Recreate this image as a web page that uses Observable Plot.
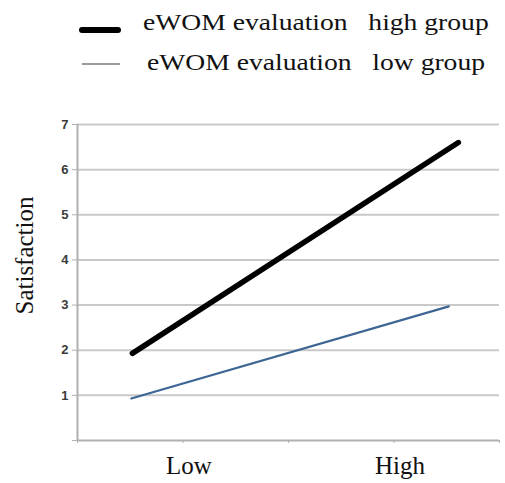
<!DOCTYPE html>
<html>
<head>
<meta charset="utf-8">
<script src="https://cdn.jsdelivr.net/npm/d3@7"></script>
<script src="https://cdn.jsdelivr.net/npm/@observablehq/plot@0.6"></script>
<style>
  html, body { margin: 0; padding: 0; background: #fff; }
  #wrap { position: relative; width: 505px; height: 483px; overflow: hidden; }
  .legend { position: absolute; left: 0; top: 0; width: 505px; height: 100px;
            font-family: "Liberation Serif", "Times New Roman", serif; font-size: 24px; color: #111; }
  .swatch { position: absolute; display: block; }
  .label { position: absolute; line-height: 24px; white-space: pre;
           transform: scaleX(1.15); transform-origin: left center; }
  #chart { position: absolute; left: 0; top: 100px; }
</style>
</head>
<body>
<div id="wrap">
  <div class="legend">
    <span class="swatch" style="left:79px; top:27px; width:42px; height:6px; border-radius:3px; background:#000;"></span>
    <span class="label" style="left:143px; top:10px;">eWOM evaluation   high group</span>
    <span class="swatch" style="left:82px; top:63px; width:38px; height:2px; background:#9a9a9a;"></span>
    <span class="label" style="left:147px; top:50px;">eWOM evaluation   low group</span>
  </div>
  <div id="chart"></div>
</div>
<script>
// Category labels and where they sit on the horizontal axis
const categories = ["Low", "High"];
const categoryX = [1, 3];

// Satisfaction means for each eWOM evaluation group (Low → High)
const highGroup = [1.93, 6.6];
const lowGroup = [0.93, 2.97];
// Horizontal extent of each plotted segment
const highGroupX = [0.52, 3.61];
const lowGroupX = [0.51, 3.52];

const yTicks = [0, 1, 2, 3, 4, 5, 6, 7];
const xTicks = [0, 1, 2, 3, 4];

const highData = highGroup.map((v, i) => ({x: highGroupX[i], y: v}));
const lowData = lowGroup.map((v, i) => ({x: lowGroupX[i], y: v}));

const grid = "#c9c9c9";
const axisColor = "#b0b0b0";
const serif = "Liberation Serif, Times New Roman, serif";

const plot = Plot.plot({
  width: 505,
  height: 383,
  marginLeft: 77,
  marginRight: 6,
  marginTop: 24,
  marginBottom: 43,
  x: {domain: [0, 4], axis: null},
  y: {domain: [0, 7], axis: null},
  marks: [
    Plot.ruleY(yTicks.filter(d => d > 0), {stroke: grid, strokeWidth: 2}),
    Plot.ruleY([0], {stroke: axisColor, strokeWidth: 2}),
    Plot.ruleX([0], {stroke: axisColor, strokeWidth: 2}),
    Plot.axisY({
      ticks: yTicks, tickSize: 5, tickPadding: 4, stroke: axisColor,
      tickFormat: d => d === 0 ? "" : d,
      fontFamily: "Liberation Sans, Arial, sans-serif", fontSize: 13, fontWeight: "bold",
      fill: "#3a3a3a", label: null
    }),
    Plot.text(["Satisfaction"], {
      frameAnchor: "left", textAnchor: "middle", lineAnchor: "middle",
      rotate: -90, dx: -53, dy: -27,
      fontFamily: serif, fontSize: 25, fill: "#111"
    }),
    Plot.axisX({
      ticks: xTicks, tickSize: 3, stroke: axisColor, tickFormat: () => "", label: null
    }),
    Plot.axisX({
      ticks: categoryX, tickSize: 0, tickPadding: 16, dx: 6,
      tickFormat: d => categories[categoryX.indexOf(d)],
      fontFamily: serif, fontSize: 25, fill: "#111", label: null
    }),
    Plot.line(lowData, {x: "x", y: "y", stroke: "#3d6694", strokeWidth: 2.2}),
    Plot.line(highData, {x: "x", y: "y", stroke: "#000", strokeWidth: 5.5, strokeLinecap: "round"})
  ]
});
document.getElementById("chart").appendChild(plot);
</script>
</body>
</html>
